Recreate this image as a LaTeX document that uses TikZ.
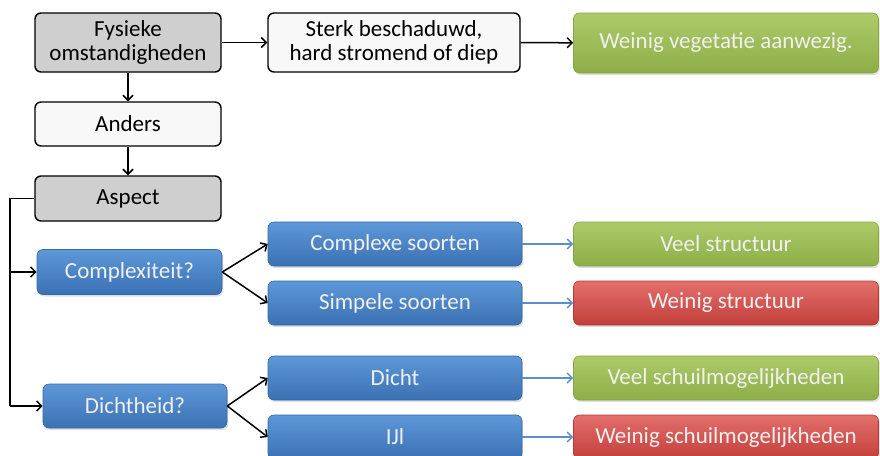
\documentclass[tikz,border=0pt]{standalone}
\usepackage{fontspec}
\setmainfont{Carlito}
\usetikzlibrary{arrows.meta,shadows}

\definecolor{greyfill}{HTML}{CFCFCF}
\definecolor{palefill}{HTML}{F8F8F8}
\definecolor{bluetop}{HTML}{5E98D8}
\definecolor{bluebot}{HTML}{3A71B4}
\definecolor{blueedge}{HTML}{3567A6}
\definecolor{greentop}{HTML}{AECB6A}
\definecolor{greenbot}{HTML}{8CAE47}
\definecolor{greenedge}{HTML}{86A544}
\definecolor{redtop}{HTML}{E36F6B}
\definecolor{redbot}{HTML}{C23F3B}
\definecolor{rededge}{HTML}{B53A36}
\definecolor{linkblue}{HTML}{5A8ED0}

\tikzset{
  base/.style={rounded corners=6pt, align=center, inner sep=0pt,
    font=\fontsize{23}{24.5}\selectfont},
  plainbox/.style={base, draw=black, line width=1.4pt, text=black},
  colbox/.style={base, text=white!94!black, line width=0.6pt,
    drop shadow={shadow xshift=1.2pt, shadow yshift=-2pt, opacity=0.25}},
  bluebox/.style={colbox, draw=blueedge, top color=bluetop, bottom color=bluebot},
  greenbox/.style={colbox, draw=greenedge, top color=greentop, bottom color=greenbot},
  redbox/.style={colbox, draw=rededge, top color=redtop, bottom color=redbot},
  flow/.style={draw=black, line width=1.5pt, -{Straight Barb[length=5pt,width=10pt,line width=1.5pt]}},
  link/.style={draw=linkblue, line width=1.4pt, -{Straight Barb[length=5pt,width=10pt,line width=1.4pt]}},
}

\begin{document}
\begin{tikzpicture}[x=1pt,y=-1pt]
\useasboundingbox[fill=white] (0,0) rectangle (880,455);

% top row
\node[plainbox, fill=greyfill, minimum width=186pt, minimum height=59pt] (fys) at (128,42.5) {Fysieke\\omstandigheden};
\node[plainbox, fill=palefill, minimum width=252pt, minimum height=59pt] (sterk) at (394,42.5) {Sterk beschaduwd,\\hard stromend of diep};
\node[greenbox, minimum width=305pt, minimum height=60pt] (veg) at (726,43) {Weinig vegetatie aanwezig.};

% left column
\node[plainbox, fill=palefill, minimum width=186pt, minimum height=44pt] (anders) at (128,124) {Anders};
\node[plainbox, fill=greyfill, minimum width=186pt, minimum height=45pt] (aspect) at (128,198.5) {Aspect};

% questions
\node[bluebox, minimum width=185pt, minimum height=45pt] (compl) at (129.5,272) {Complexiteit?};
\node[bluebox, minimum width=184pt, minimum height=44pt] (dicht) at (135,406) {Dichtheid?};

% answers
\node[bluebox, minimum width=254pt, minimum height=44pt] (cs) at (395,244) {Complexe soorten};
\node[bluebox, minimum width=254pt, minimum height=44pt] (ss) at (395,303) {Simpele soorten};
\node[bluebox, minimum width=254pt, minimum height=44pt] (di) at (395,378) {Dicht};
\node[bluebox, minimum width=254pt, minimum height=44pt] (ijl) at (395,437) {IJl};

% outcomes
\node[greenbox, minimum width=305pt, minimum height=44pt] (vs) at (726,244) {Veel structuur};
\node[redbox, minimum width=305pt, minimum height=44pt] (ws) at (726,303) {Weinig structuur};
\node[greenbox, minimum width=305pt, minimum height=44pt] (vsm) at (726,378) {Veel schuilmogelijkheden};
\node[redbox, minimum width=305pt, minimum height=44pt] (wsm) at (726,437) {Weinig schuilmogelijkheden};

% black connectors
\draw[flow] (fys) -- (sterk);
\draw[flow] (sterk) -- (veg);
\draw[flow] (fys) -- (anders);
\draw[flow] (anders) -- (aspect);

\coordinate (trunktop) at (10,198.5);
\coordinate (trunkmid) at (10,272);
\coordinate (trunkbot) at (10,406);
\draw[line width=1.5pt] (aspect.west) -- (trunktop) -- (trunkbot);
\draw[flow] (trunkmid) -- (compl.west);
\draw[flow] (trunkbot) -- (dicht.west);

\draw[flow] (compl.east) -- (cs.west);
\draw[flow] (compl.east) -- (ss.west);
\draw[flow] (dicht.east) -- (di.west);
\draw[flow] (dicht.east) -- (ijl.west);

% blue connectors
\draw[link] (cs) -- (vs);
\draw[link] (ss) -- (ws);
\draw[link] (di) -- (vsm);
\draw[link] (ijl) -- (wsm);
\end{tikzpicture}
\end{document}
